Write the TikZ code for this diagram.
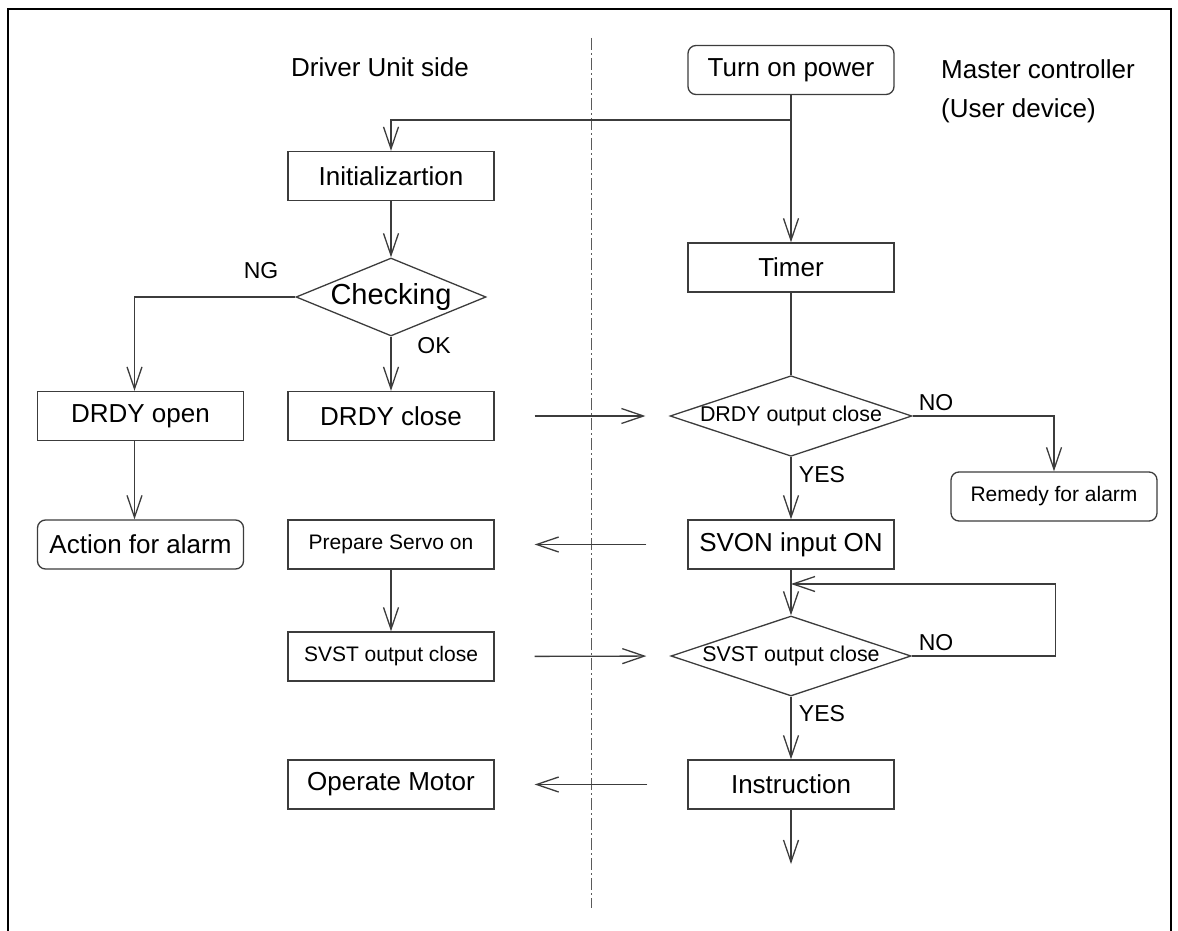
\documentclass[tikz,border=0pt]{standalone}
\usepackage{fontspec}
\setmainfont{Liberation Sans}
\usetikzlibrary{
  shapes.geometric,
  arrows.meta,
  calc
}
\definecolor{linecolor}{RGB}{60,60,60}
\definecolor{framecolor}{RGB}{0,0,0}
\definecolor{axiscolor}{RGB}{90,90,90}
\tikzset{
boxtext/.style={
  font=\fontsize{26}{30}\selectfont,
  text=black,
  align=center
},
smalltext/.style={
  font=\fontsize{21}{25}\selectfont
},
procbox/.style={
  draw=linecolor,
  line width=1.3pt,
  minimum width=206pt,
  minimum height=49pt,
  inner sep=0pt,
  boxtext
},
termbox/.style={
  procbox,
  rounded corners=8pt
},
decision/.style={
  draw=linecolor,
  line width=1.3pt,
  diamond,
  aspect=3,
  inner sep=0pt,
  minimum width=240pt,
  minimum height=80pt,
  font=\fontsize{21.4}{25}\selectfont
},
branchlabel/.style={
  font=\fontsize{23}{27}\selectfont,
  inner sep=0pt
},
arrow/.style={
  -{Straight Barb[length=22pt,width=15pt]},
  line width=1.3pt,
  draw=linecolor
},
flowline/.style={
  line width=1.3pt,
  draw=linecolor
},
divider/.style={
  draw=axiscolor,
  line width=1pt,
  dash pattern=on 12pt off 3pt on 2pt off 3pt
}
}

\begin{document}
\begin{tikzpicture}[x=1pt, y=-1pt]
        \useasboundingbox (0,0) rectangle (1178,931);
        % frame and divider
        \draw[framecolor, line width=2.5pt] (8,9) rectangle (1171,980);
        \draw[divider] (591,38) -- (591,908);

        % side titles
        \node[boxtext, anchor=base] (driverside) at (380,77) {Driver Unit side};
        \node[boxtext, anchor=west, align=left, inner sep=0pt, font=\fontsize{26}{39}\selectfont] (masterside) at (941,91) {Master controller\\(User device)};

        % master controller column
        \node[termbox] (tp) at (791,70) {Turn on power};
        \node[procbox] (timer) at (791,267.5) {Timer};
        \node[decision] (dout) at (791,416) {DRDY output close};
        \node[procbox] (svon) at (791,544.5) {SVON input ON};
        \node[decision] (sout) at (791,656) {SVST output close};
        \node[procbox] (instr) at (791,784.5) {Instruction};
        \node[termbox, smalltext] (remedy) at (1054,496.5) {Remedy for alarm};

        % driver unit column
        \node[procbox] (init) at (391,176) {Initializartion};
        \node[decision, aspect=2.4, minimum width=190pt, minimum height=78pt, font=\fontsize{29}{33}\selectfont] (check) at (391,297) {Checking};
        \node[procbox] (dclose) at (391,416) {DRDY close};
        \node[procbox] (dopen) at (140.5,416) {DRDY open};
        \node[termbox] (alarm) at (140.5,544.5) {Action for alarm};
        \node[procbox, smalltext] (prep) at (391,544.5) {Prepare Servo on};
        \node[procbox, smalltext] (svstbox) at (391,656.5) {SVST output close};
        \node[procbox] (motor) at (391,784.5) {Operate Motor};

        % branch labels
        \node[branchlabel] (nglabel) at (261,271) {NG};
        \node[branchlabel] (oklabel) at (434,346) {OK};
        \node[branchlabel] (nolabela) at (936,403) {NO};
        \node[branchlabel] (yeslabela) at (822,475) {YES};
        \node[branchlabel] (nolabelb) at (936,643) {NO};
        \node[branchlabel] (yeslabelb) at (822,714) {YES};

        % power on
        \coordinate (split) at (791,120);
        \coordinate (merge) at (791,584);
        \coordinate (flowend) at (791,864);
        \draw[arrow] (tp.south) -- (timer.north);
        \draw[arrow] (split) -| (init.north);

        % driver side flow
        \draw[arrow] (init.south) -- (check.north);
        \draw[arrow] (check.west) -| ($(dopen.north)+(-6,0)$);
        \draw[arrow] (check.south) -- (dclose.north);
        \draw[arrow] ($(dopen.south)+(-6,0)$) -- ($(alarm.north)+(-6,0)$);
        \draw[arrow] (prep.south) -- (svstbox.north);

        % master side flow
        \draw[flowline] (timer.south) -- (dout.north);
        \draw[arrow] (dout.east) -| (remedy.north);
        \draw[arrow] (dout.south) -- (svon.north);
        \draw[arrow] (svon.south) -- (sout.north);
        \draw[arrow] (sout.east) -- ++(144,0) |- (merge);
        \draw[arrow] (sout.south) -- (instr.north);
        \draw[arrow] (instr.south) -- (flowend);

        % signals across
        \draw[arrow, shorten <=40pt, shorten >=24pt] (dclose.east) -- (dout.west);
        \draw[arrow, shorten <=41pt, shorten >=40pt] (svon.west) -- (prep.east);
        \draw[arrow, shorten <=40pt, shorten >=24pt] (svstbox.east) -- (sout.west);
        \draw[arrow, shorten <=40pt, shorten >=40pt] (instr.west) -- (motor.east);
      \end{tikzpicture}
\end{document}
